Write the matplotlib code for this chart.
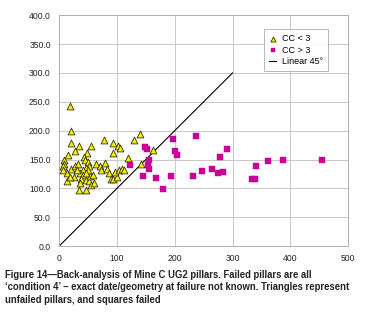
import matplotlib
matplotlib.use('Agg')
import matplotlib.pyplot as plt

plt.rcParams['font.family'] = ['Liberation Sans', 'DejaVu Sans']

# unfailed pillars, CC < 3
tri_x = [19, 20, 21, 35, 28, 16, 55, 78, 93, 93, 102, 105, 140, 130, 162, 120, 141,
         8, 9, 6, 6, 13, 13, 21, 28, 32, 26, 19, 48, 43, 45, 50, 51, 47, 41, 36, 42,
         38, 36, 34, 47, 46, 52, 55, 61, 53, 59, 63, 70, 72, 79, 83, 86, 89, 94, 100,
         97, 103, 109, 112, 50, 46, 31]
tri_y = [242, 199, 178, 173, 165, 157, 173, 184, 179, 162, 173, 170, 194, 183, 166, 153, 142,
         149, 143, 138, 132, 126, 112, 134, 139, 142, 120, 120, 161, 155, 149, 145, 139, 135, 132, 126, 123,
         116, 110, 98, 97, 114, 112, 106, 110, 121, 123, 142, 139, 132, 144, 134, 126, 117, 117, 120,
         129, 132, 134, 131, 132, 127, 132]

# failed pillars, CC > 3
sq_x = [123, 148, 152, 156, 153, 155, 145, 167, 179, 193, 197, 200, 204, 231, 236,
        248, 264, 274, 283, 279, 290, 334, 338, 341, 362, 387, 455]
sq_y = [141, 172, 169, 149, 140, 133, 121, 118, 99, 121, 185, 165, 157, 121, 191,
        130, 133, 127, 129, 154, 168, 116, 117, 138, 148, 149, 149]

line_x = [0, 300]
line_y = [0, 300]

fig = plt.figure(figsize=(3.89, 3.23), dpi=100)
ax = fig.add_axes([0.152, 0.238, 0.743, 0.715])

ax.scatter(tri_x, tri_y, marker='^', s=24, c='#f5f000', edgecolors='#333300',
           linewidths=0.6, zorder=3, label='CC < 3')
ax.scatter(sq_x, sq_y, marker='s', s=20, c='#cc0099', edgecolors='#cc0099',
           linewidths=0.3, zorder=3, label='CC > 3')
ax.plot(line_x, line_y, color='black', lw=0.8, zorder=2, label='Linear 45°')

ax.set_xlim(0, 500)
ax.set_ylim(0, 400)
ax.set_xticks(range(0, 501, 100))
ax.set_yticks(range(0, 401, 50))
ax.set_yticklabels([f'{v:.1f}' for v in range(0, 401, 50)])
ax.grid(True, color='#c8c8c8', lw=0.7)
ax.set_axisbelow(True)
for s in ax.spines.values():
    s.set_color('#b0b0b0')
    s.set_linewidth(0.7)
ax.tick_params(length=0, labelsize=6.2, colors='#222222', pad=6)

leg = ax.legend(loc='upper right', bbox_to_anchor=(0.93, 0.94), fontsize=6.5,
                frameon=True, fancybox=False, edgecolor='#999999',
                handlelength=0.8, handletextpad=0.6, borderpad=0.55,
                borderaxespad=0.0, labelspacing=0.3, markerscale=0.75)
leg.get_frame().set_linewidth(0.6)

fig.text(0.013, 0.165,
         "Figure 14\u2014Back-analysis of Mine C UG2 pillars. Failed pillars are all\n"
         "\u2018condition 4\u2019 \u2013 exact date/geometry at failure not known. Triangles represent\n"
         "unfailed pillars, and squares failed",
         fontsize=6.85, fontweight='bold', color='#222222', va='top', ha='left',
         linespacing=1.32)

fig.savefig('out.png', dpi=100)
